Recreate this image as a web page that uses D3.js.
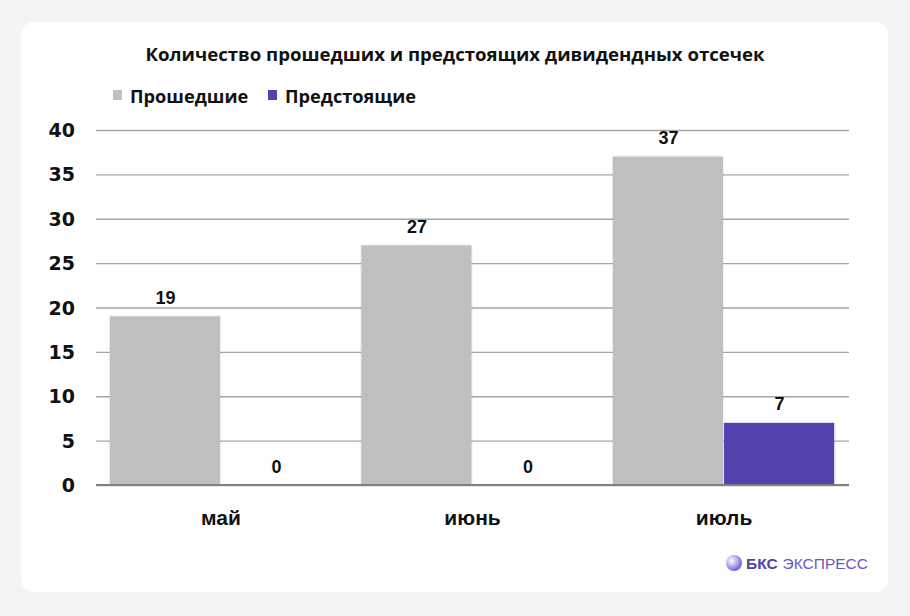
<!DOCTYPE html>
<html><head><meta charset="utf-8">
<script src="https://cdn.jsdelivr.net/npm/d3@7"></script>
<style>
html,body{margin:0;padding:0;background:#f4f4f4;}
svg{display:block;}
</style></head>
<body>
<svg id="chart" width="910" height="616"></svg>
<script>
const categories = ["май", "июнь", "июль"];
const seriesNames = ["Прошедшие", "Предстоящие"];
const past = [19, 27, 37];
const upcoming = [0, 0, 7];
const yTicks = [0, 5, 10, 15, 20, 25, 30, 35, 40];
const title = "Количество прошедших и предстоящих дивидендных отсечек";
const colors = ["#bfbfbf", "#5442b0"];

const svg = d3.select("#chart");
const defs = svg.append("defs");
const f = defs.append("filter").attr("id","sh").attr("x","-10%").attr("y","-10%").attr("width","120%").attr("height","120%");
f.append("feDropShadow").attr("dx",0).attr("dy",0).attr("stdDeviation",1.2).attr("flood-color","#000").attr("flood-opacity",0.18);
const g1 = defs.append("radialGradient").attr("id","logo").attr("cx","35%").attr("cy","35%").attr("r","70%");
g1.append("stop").attr("offset","0%").attr("stop-color","#ffffff");
g1.append("stop").attr("offset","50%").attr("stop-color","#b9aef0");
g1.append("stop").attr("offset","100%").attr("stop-color","#6a55d0");

svg.append("rect").attr("x",21).attr("y",22).attr("width",867).attr("height",570).attr("rx",13).attr("fill","#fff");

const font = "'Open Sans', 'Noto Sans', sans-serif";
svg.append("text").attr("x",455).attr("y",61).attr("text-anchor","middle")
  .attr("font-family",font).attr("font-weight",700).attr("font-size",18.6).attr("fill","#111")
  .text(title);

// legend
const legX = [113, 268];
seriesNames.forEach((n,i)=>{
  svg.append("rect").attr("x",legX[i]).attr("y",90).attr("width",9).attr("height",10).attr("fill",colors[i]);
  svg.append("text").attr("x",legX[i]+17).attr("y",102.5).attr("font-family",font).attr("font-weight",700)
    .attr("font-size",18.2).attr("fill","#111").text(n);
});

const x0 = d3.scaleBand().domain(categories).range([96,849]).paddingInner(0.116).paddingOuter(0.055);
const x1 = d3.scaleBand().domain(seriesNames).range([0,x0.bandwidth()]);
const y = d3.scaleLinear().domain([0,40]).range([485,130]);

// gridlines
const grid = svg.append("g").attr("transform","translate(96,0)")
  .call(d3.axisLeft(y).tickValues(yTicks).tickSize(-753).tickFormat(""));
grid.select(".domain").remove();
grid.selectAll(".tick line").attr("stroke","#a6a6a6").attr("stroke-width",1.3);

// y labels
svg.append("g").selectAll("text").data(yTicks).join("text")
  .attr("x",75).attr("y",d=>y(d)+7).attr("text-anchor","end")
  .attr("font-family","'DejaVu Sans', sans-serif").attr("font-weight",700).attr("font-size",19)
  .attr("fill","#111").text(d=>d);

const data = categories.map((c,i)=>({c, vals:[past[i], upcoming[i]]}));
const groups = svg.append("g").selectAll("g").data(data).join("g")
  .attr("transform",d=>`translate(${x0(d.c)},0)`);
groups.selectAll("rect").data(d=>d.vals.map((v,i)=>({v,s:seriesNames[i],i}))).join("rect")
  .attr("x",d=>x1(d.s)).attr("width",x1.bandwidth()-1)
  .attr("y",d=>y(d.v)).attr("height",d=>y(0)-y(d.v))
  .attr("fill",d=>colors[d.i]).attr("filter",d=>d.v>0?"url(#sh)":null);
groups.selectAll("text").data(d=>d.vals.map((v,i)=>({v,s:seriesNames[i],i}))).join("text")
  .attr("x",d=>x1(d.s)+x1.bandwidth()/2).attr("y",d=>y(d.v)-12.5)
  .attr("text-anchor","middle").attr("font-family","'Liberation Sans', Arial, sans-serif")
  .attr("font-weight",700).attr("font-size",18).attr("fill","#111").text(d=>d.v);

// baseline
svg.append("line").attr("x1",96).attr("x2",849).attr("y1",y(0)).attr("y2",y(0))
  .attr("stroke","#808080").attr("stroke-width",2);

// x labels
const xa = svg.append("g").attr("transform",`translate(0,${y(0)})`)
  .call(d3.axisBottom(x0).tickSize(0).tickPadding(0));
xa.select(".domain").remove();
xa.selectAll(".tick text").attr("y",40).attr("dy",0).attr("font-family","'Liberation Sans', Arial, sans-serif")
  .attr("font-weight",700).attr("font-size",21).attr("fill","#111");

// logo
svg.append("circle").attr("cx",734).attr("cy",563).attr("r",8).attr("fill","url(#logo)");
const lt = svg.append("text").attr("x",746).attr("y",569).attr("font-family","'Liberation Sans', Arial, sans-serif").attr("font-size",15.5);
lt.append("tspan").attr("font-weight",700).attr("fill","#4f3fb0").text("БКС");
lt.append("tspan").attr("dx",5).attr("fill","#6a58c8").text("ЭКСПРЕСС");
</script>
</body></html>
